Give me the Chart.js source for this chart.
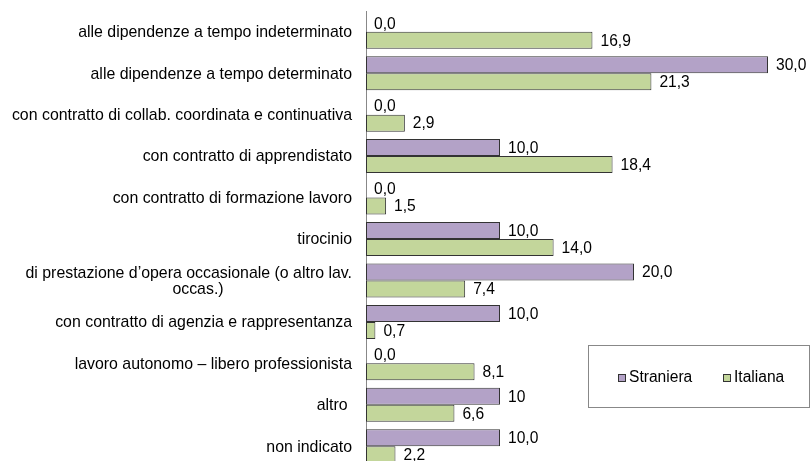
<!DOCTYPE html>
<html>
<head>
<meta charset="utf-8">
<script src="https://cdn.jsdelivr.net/npm/chart.js@4"></script>
<style>
  html, body { margin: 0; padding: 0; background: #fff; overflow: hidden; }
  canvas { display: block; }
</style>
</head>
<body>
<canvas id="chart" width="811" height="467"></canvas>
<script>
const categories = [
    'alle dipendenze a tempo indeterminato',
    'alle dipendenze a tempo determinato',
    'con contratto di collab. coordinata e continuativa',
    'con contratto di apprendistato',
    'con contratto di formazione lavoro',
    'tirocinio',
    ['di prestazione d\u2019opera occasionale (o altro lav.', 'occas.)'],
    'con contratto di agenzia e rappresentanza',
    'lavoro autonomo \u2013 libero professionista',
    'altro ',
    'non indicato'
];
const straniera = [0, 30, 0, 10, 0, 10, 20, 10, 0, 10, 10];
const italiana = [16.9, 21.3, 2.9, 18.4, 1.5, 14.0, 7.4, 0.7, 8.1, 6.6, 2.2];
// the source shows "10" without decimals for "altro"
const straLabels = {9: '10'};

const FONT = '15.6px "Liberation Sans", Arial, sans-serif';
const CAT_FONT = '15.9px "Liberation Sans", Arial, sans-serif';

function fmt(v) {
    return v.toFixed(1).replace('.', ',');
}

const barLabels = {
    id: 'barLabels',
    afterDatasetsDraw(chart) {
        const ctx = chart.ctx;
        ctx.save();
        ctx.font = FONT;
        ctx.fillStyle = '#000';
        ctx.textAlign = 'left';
        ctx.textBaseline = 'middle';
        chart.data.datasets.forEach((ds, di) => {
            chart.getDatasetMeta(di).data.forEach((bar, i) => {
                let txt = fmt(ds.data[i]);
                if (di === 0 && straLabels[i]) txt = straLabels[i];
                ctx.fillText(txt, bar.x + 8, bar.y + 1);
            });
        });
        ctx.restore();
    }
};

const catLabels = {
    id: 'catLabels',
    afterDraw(chart) {
        const ctx = chart.ctx;
        const scale = chart.scales.y;
        ctx.save();
        ctx.font = CAT_FONT;
        ctx.fillStyle = '#000';
        ctx.textBaseline = 'middle';
        categories.forEach((lab, i) => {
            const y = scale.getPixelForValue(i);
            const lines = Array.isArray(lab) ? lab : [lab];
            const lh = 16;
            const y0 = y - (lines.length - 1) * lh / 2;
            lines.forEach((ln, k) => {
                if (k === 0) {
                    ctx.textAlign = 'right';
                    ctx.fillText(ln, 352, y0 + 1);
                } else {
                    ctx.textAlign = 'center';
                    ctx.fillText(ln, 198, y0 + k * lh + 1);
                }
            });
        });
        ctx.restore();
    }
};

const boxLegend = {
    id: 'boxLegend',
    afterDraw(chart) {
        const ctx = chart.ctx;
        ctx.save();
        ctx.strokeStyle = '#888';
        ctx.lineWidth = 1;
        ctx.strokeRect(588.5, 345.5, 221, 62);
        ctx.font = FONT;
        ctx.textAlign = 'left';
        ctx.textBaseline = 'middle';
        const xs = [618, 723];
        chart.data.datasets.forEach((ds, i) => {
            ctx.fillStyle = ds.backgroundColor;
            ctx.fillRect(xs[i], 374, 7, 7);
            ctx.strokeStyle = '#333';
            ctx.strokeRect(xs[i] + 0.5, 374.5, 7, 7);
            ctx.fillStyle = '#000';
            ctx.fillText(ds.label, xs[i] + 11, 378);
        });
        ctx.restore();
    }
};

new Chart(document.getElementById('chart'), {
    type: 'bar',
    data: {
        labels: categories,
        datasets: [{
            label: 'Straniera',
            data: straniera,
            backgroundColor: '#B3A2C7',
            borderColor: '#333',
            borderWidth: 1,
            borderSkipped: false
        }, {
            label: 'Italiana',
            data: italiana,
            backgroundColor: '#C3D69B',
            borderColor: '#333',
            borderWidth: 1,
            borderSkipped: false
        }]
    },
    options: {
        indexAxis: 'y',
        responsive: false,
        animation: false,
        layout: { padding: { top: 11, right: 43, left: 0, bottom: 0 } },
        categoryPercentage: 0.82,
        barPercentage: 1,
        plugins: {
            legend: { display: false },
            tooltip: { enabled: false }
        },
        scales: {
            x: { display: false, min: 0, max: 30 },
            y: {
                ticks: { display: false },
                grid: { display: false },
                border: { display: true, color: '#888' },
                afterFit(scale) { scale.width = 366; }
            }
        }
    },
    plugins: [barLabels, catLabels, boxLegend]
});
</script>
</body>
</html>
